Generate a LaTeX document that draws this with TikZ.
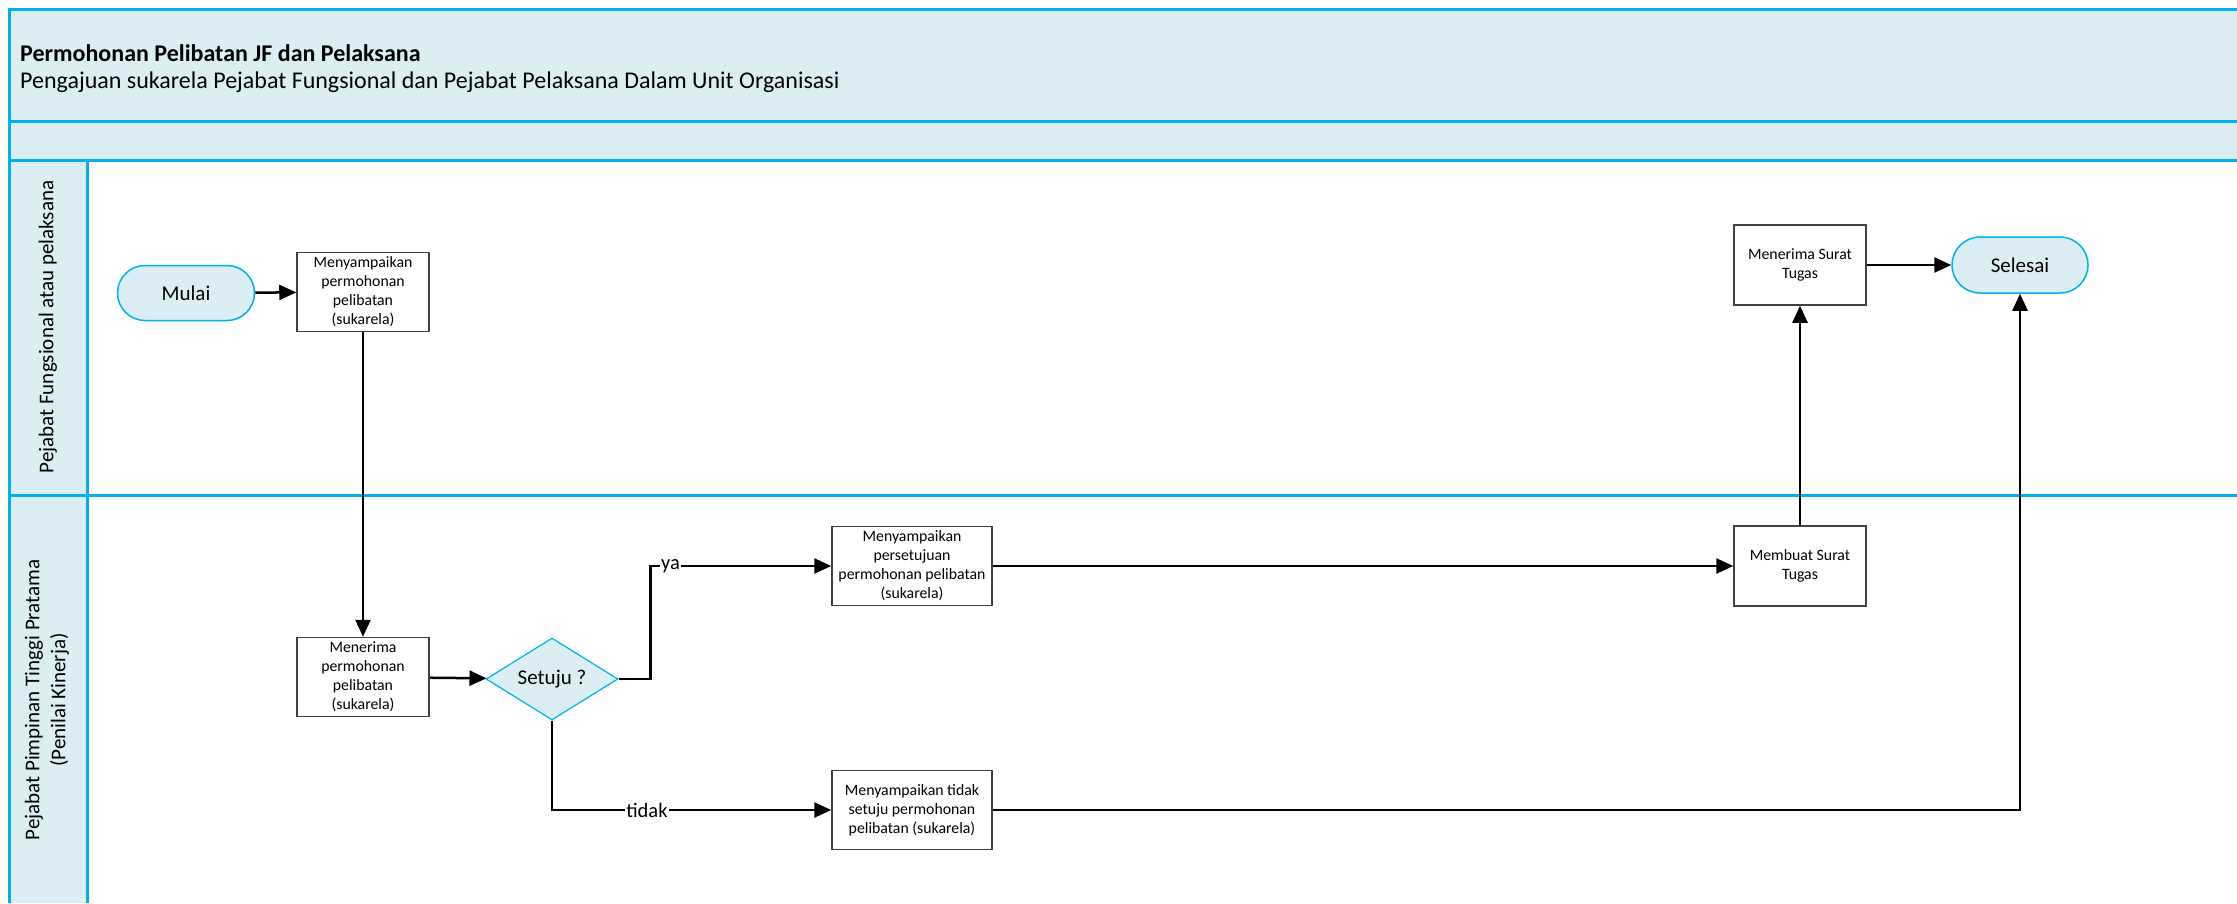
\documentclass[tikz,border=0pt]{standalone}
\usepackage{fontspec}
\setmainfont{Carlito}
\usetikzlibrary{shapes.geometric,arrows.meta}
\definecolor{lanefill}{HTML}{DAEEF3}
\definecolor{laneline}{HTML}{00B0F0}
\begin{document}
\begin{tikzpicture}[x=1pt,y=-1pt,
    proc/.style={draw=black!75,line width=1.5pt,fill=white,minimum width=132pt,minimum height=79pt,align=center,inner sep=1pt,font=\fontsize{15.8}{19}\selectfont},
    term/.style={draw=laneline,line width=1.5pt,fill=lanefill,minimum width=137pt,minimum height=55pt,rounded corners=27.5pt,font=\fontsize{21}{25}\selectfont},
    decision/.style={diamond,aspect=1.6,draw=laneline,line width=1.2pt,fill=lanefill,minimum width=132pt,minimum height=82pt,inner sep=0pt,font=\fontsize{21}{25}\selectfont},
    flow/.style={line width=2.5pt,-{Triangle[length=17pt,width=15pt]}},
    lbl/.style={fill=white,inner sep=1pt,font=\fontsize{20.5}{24}\selectfont},
    lane/.style={laneline,line width=3pt}]
        \useasboundingbox(0,0)rectangle(2237,903);
        % pool and lanes
        \fill[lanefill](9,9)rectangle(2237,160);
        \fill[lanefill](9,160)rectangle(87,903);
        \draw[lane](2237,9)--(9,9)--(9,903);
        \draw[lane](9,121)--(2237,121);
        \draw[lane](9,160)--(2237,160);
        \draw[lane](9,495)--(2237,495);
        \draw[lane](87,160)--(87,903);
        \node(t1)[anchor=west,inner sep=0pt,font=\fontsize{24}{28}\selectfont\bfseries]at(20,53){Permohonan Pelibatan JF dan Pelaksana};
        \node(t2)[anchor=west,inner sep=0pt,font=\fontsize{24}{28}\selectfont]at(20,82){Pengajuan sukarela Pejabat Fungsional dan Pejabat Pelaksana Dalam Unit Organisasi};
        \node(l1)[rotate=90,font=\fontsize{21}{26}\selectfont]at(48,327){Pejabat Fungsional atau pelaksana};
        \node(l2)[rotate=90,align=center,font=\fontsize{21}{26}\selectfont]at(47,700){Pejabat Pimpinan Tinggi Pratama\\(Penilai Kinerja)};
        % steps
        \node(1)[term]at(186,293){Mulai};
        \node(2)[proc]at(363,292){Menyampaikan\\permohonan\\pelibatan\\(sukarela)};
        \node(3)[proc]at(363,677){Menerima\\permohonan\\pelibatan\\(sukarela)};
        \node(4)[decision]at(552,679){Setuju ?};
        \node(5)[proc,minimum width=160pt]at(912,566){Menyampaikan\\persetujuan\\permohonan pelibatan\\(sukarela)};
        \node(6)[proc,minimum width=160pt]at(912,810){Menyampaikan tidak\\setuju permohonan\\pelibatan (sukarela)};
        \node(7)[proc,minimum height=80pt]at(1800,566){Membuat Surat\\Tugas};
        \node(8)[proc,minimum height=80pt]at(1800,265){Menerima Surat\\Tugas};
        \node(9)[term,minimum width=136pt,minimum height=56pt,rounded corners=28pt]at(2020,265){Selesai};
        % flows
        \draw[flow](1)--(2);
        \draw[flow](2)--(3);
        \draw[flow](3)--(4);
        \draw[flow](4.east)--++(32,0)|-node[lbl,pos=0.555]{ya}(5.west);
        \draw[flow](4.south)|-node[lbl,pos=0.67]{tidak}(6.west);
        \draw[flow](5)--(7);
        \draw[flow](7)--(8);
        \draw[flow](8)--(9);
        \draw[flow](6)-|(9);
    \end{tikzpicture}
\end{document}
